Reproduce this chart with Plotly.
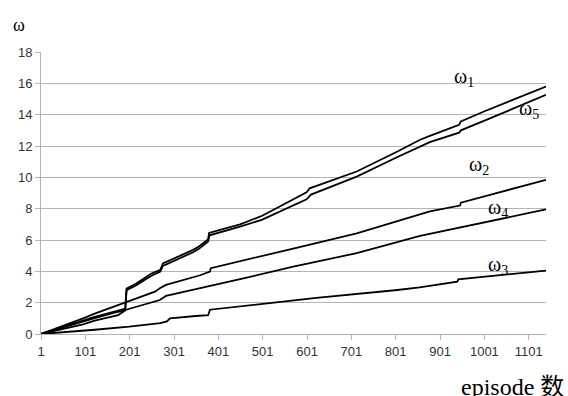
import plotly.graph_objects as go

# episode / value points (steps kept as paired points)
w1_ep = [1, 50, 96, 122, 175, 191, 194, 215, 249, 270, 276, 300, 344, 358, 372, 378, 380, 450, 500, 562, 600, 607, 713, 805, 856, 878, 944, 948, 1000, 1140]
w1_v = [0, 0.45, 0.85, 1.1, 1.5, 1.62, 2.9, 3.2, 3.85, 4.1, 4.5, 4.8, 5.37, 5.6, 5.95, 6.05, 6.45, 7.0, 7.55, 8.45, 9.05, 9.3, 10.37, 11.65, 12.4, 12.65, 13.35, 13.57, 14.2, 15.8]

w5_ep = [1, 50, 96, 122, 175, 191, 194, 215, 249, 270, 276, 300, 344, 358, 372, 378, 381, 450, 500, 562, 600, 610, 713, 805, 856, 878, 944, 948, 1000, 1140]
w5_v = [0, 0.42, 0.8, 1.02, 1.42, 1.52, 2.8, 3.1, 3.7, 3.98, 4.35, 4.65, 5.22, 5.45, 5.8, 5.9, 6.3, 6.85, 7.3, 8.1, 8.6, 8.9, 10.05, 11.3, 11.95, 12.25, 12.85, 13.0, 13.6, 15.27]

w2_ep = [1, 50, 96, 122, 175, 193, 258, 269, 283, 360, 382, 384, 470, 562, 577, 713, 856, 878, 946, 948, 1140]
w2_v = [0, 0.5, 1.0, 1.3, 1.85, 2.0, 2.7, 2.92, 3.13, 3.75, 3.98, 4.2, 4.8, 5.42, 5.5, 6.43, 7.6, 7.82, 8.2, 8.38, 9.84]

w4_ep = [1, 50, 96, 122, 175, 193, 258, 269, 283, 404, 480, 570, 713, 856, 878, 1140]
w4_v = [0, 0.32, 0.62, 0.85, 1.2, 1.55, 2.07, 2.17, 2.43, 3.24, 3.7, 4.3, 5.16, 6.26, 6.39, 7.95]

w3_ep = [1, 96, 122, 200, 270, 285, 292, 350, 378, 382, 480, 577, 622, 805, 855, 940, 942, 1140]
w3_v = [0, 0.2, 0.27, 0.47, 0.7, 0.8, 1.0, 1.15, 1.2, 1.55, 1.85, 2.17, 2.3, 2.81, 2.98, 3.34, 3.49, 4.05]

series = [("ω1", w1_ep, w1_v), ("ω5", w5_ep, w5_v), ("ω2", w2_ep, w2_v),
          ("ω4", w4_ep, w4_v), ("ω3", w3_ep, w3_v)]

x_ticks = [1, 101, 201, 301, 401, 501, 601, 701, 801, 901, 1001, 1101]
y_ticks = [0, 2, 4, 6, 8, 10, 12, 14, 16, 18]

# label positions (episode, value) near line ends
labels = [("ω<sub>1</sub>", 955, 16.35), ("ω<sub>5</sub>", 1102, 14.3),
          ("ω<sub>2</sub>", 990, 10.75), ("ω<sub>4</sub>", 1032, 8.0),
          ("ω<sub>3</sub>", 1032, 4.35)]

fig = go.Figure()
for name, xs, ys in series:
    fig.add_trace(go.Scatter(x=xs, y=ys, mode="lines", name=name,
                             line=dict(color="black", width=1.8),
                             showlegend=False, hoverinfo="skip"))

serif = "Liberation Serif, Times New Roman, serif"
for txt, ex, vy in labels:
    fig.add_annotation(x=ex, y=vy, text=txt, showarrow=False,
                       font=dict(family=serif, size=20, color="black"),
                       xref="x", yref="y")

fig.add_annotation(x=-0.043, y=1.096, xref="paper", yref="paper", text="ω",
                   showarrow=False, xanchor="center", yanchor="middle",
                   font=dict(family=serif, size=18, color="black"))

fig.add_annotation(x=1.04, y=-0.135, xref="paper", yref="paper", text="episode 数",
                   showarrow=False, xanchor="right", yanchor="top",
                   font=dict(family=serif + ", Noto Sans CJK SC", size=24, color="black"))

fig.update_xaxes(range=[1, 1140], tickvals=x_ticks, ticktext=[str(t) for t in x_ticks],
                 showgrid=False, showline=True, linecolor="#b4b4b4", linewidth=1,
                 ticks="outside", ticklen=5, tickcolor="#b4b4b4",
                 tickfont=dict(family="Liberation Sans, Arial, sans-serif", size=13, color="#333333"),
                 zeroline=False)
fig.update_yaxes(range=[0, 18], tickvals=y_ticks,
                 showgrid=True, gridcolor="#b4b4b4", gridwidth=1,
                 showline=True, linecolor="#b4b4b4", linewidth=1,
                 ticks="outside", ticklen=5, tickcolor="#b4b4b4",
                 tickfont=dict(family="Liberation Sans, Arial, sans-serif", size=13, color="#333333"),
                 zeroline=False)

fig.update_layout(width=568, height=396,
                  margin=dict(l=41, r=22, t=52, b=62),
                  plot_bgcolor="white", paper_bgcolor="white")

fig.write_html("out.html")
